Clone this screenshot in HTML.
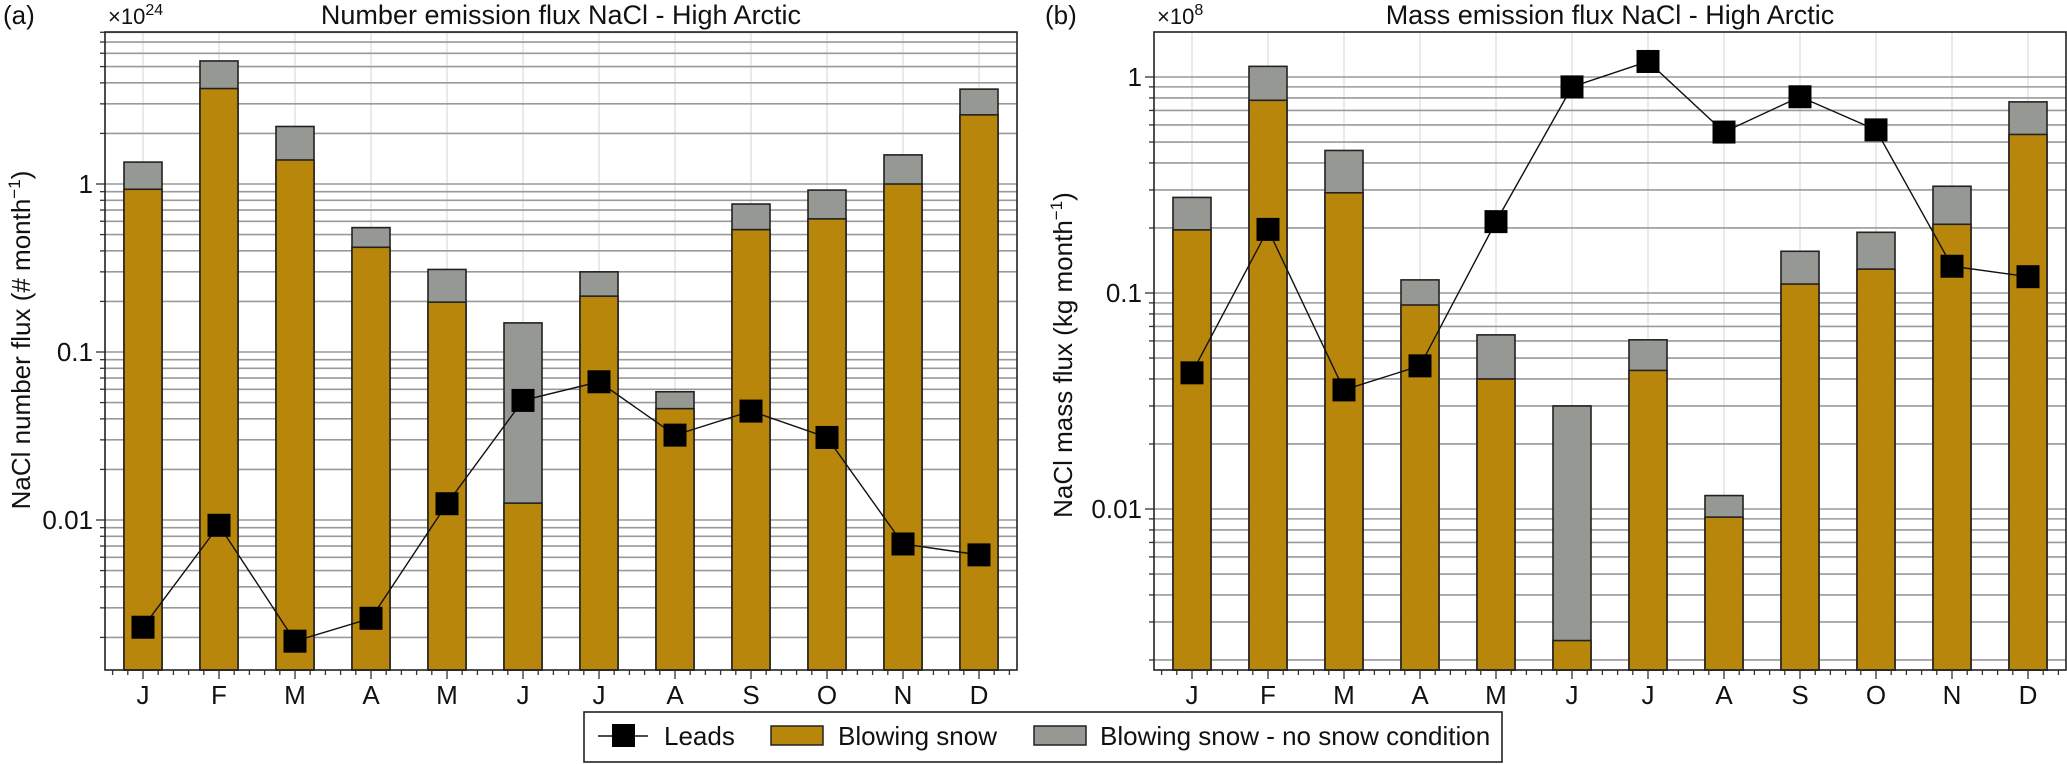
<!DOCTYPE html>
<html><head><meta charset="utf-8">
<style>
html,body{margin:0;padding:0;background:#fff;}
svg{display:block;font-family:"Liberation Sans",Arial,sans-serif;}
</style></head>
<body>
<svg id="chart" width="2067" height="764" viewBox="0 0 2067 764"></svg>
<script>
const months = ["J","F","M","A","M","J","J","A","S","O","N","D"];
// Panel (a): number flux (x1e24 # month^-1)
const numBlowing = [0.93,3.7,1.39,0.42,0.198,0.0126,0.215,0.046,0.535,0.62,1.0,2.58];
const numTotal   = [1.35,5.4,2.2,0.55,0.31,0.149,0.30,0.058,0.76,0.92,1.49,3.67];
const numLeads   = [0.0023,0.0093,0.0019,0.0026,0.0125,0.0515,0.0665,0.032,0.0445,0.031,0.0072,0.0062];
const numTicks = [1,0.1,0.01];
const numTickLabels = ["1","0.1","0.01"];
// Panel (b): mass flux (x1e8 kg month^-1)
const massBlowing = [0.196,0.78,0.291,0.088,0.040,0.00246,0.0438,0.00917,0.110,0.129,0.208,0.542];
const massTotal   = [0.277,1.12,0.457,0.115,0.064,0.030,0.0607,0.01154,0.156,0.191,0.312,0.767];
const massLeads   = [0.0427,0.197,0.0356,0.046,0.214,0.90,1.18,0.556,0.81,0.569,0.133,0.119];
const massTicks = [1,0.1,0.01];
const massTickLabels = ["1","0.1","0.01"];

const NS="http://www.w3.org/2000/svg";
const svg=document.getElementById('chart');
function mk(tag,attrs,parent){const e=document.createElementNS(NS,tag);for(const k in attrs)e.setAttribute(k,attrs[k]);(parent||svg).appendChild(e);return e;}

function panel(cfg){
  const g=mk('g',{});
  
  
  const L=cfg.left,T=32,B=670,W=912,R=L+W;
  const y=v=>cfg.y1-(Math.log10(v))*cfg.dec;
  const bw=W/12;
  const x=i=>L+bw*(i+0.5);
  const lo=Math.log10(cfg.ymin),hi=Math.log10(cfg.ymax);
  for(let i=0;i<12;i++){const l=mk('line',{x1:x(i),x2:x(i),y1:T,y2:B,stroke:'#e3e3e3','stroke-width':1.5},g);
    }
  for(let e=Math.floor(lo);e<=Math.ceil(hi);e++){
    for(let m=1;m<10;m++){const v=m*Math.pow(10,e);const lv=Math.log10(v);if(lv<lo||lv>hi)continue;
      const yy=y(v);
      const gl=mk('line',{x1:L,x2:R,y1:yy,y2:yy,stroke:'#9a9a9a','stroke-width':1.6},g);
      
      mk('line',{x1:L-(m===1?9:5),x2:L,y1:yy,y2:yy,stroke:'#333','stroke-width':1.3},g);
    }
  }
  cfg.ticks.forEach((t,i)=>{const tx=mk('text',{x:L-12,y:y(t)+9,'text-anchor':'end','font-size':26,fill:'#111'},g);
    tx.textContent=cfg.tickLabels[i];});
  for(let i=0;i<12;i++){
    const bx=x(i)-bw/4;
    const gt=mk('rect',{x:bx,y:y(cfg.total[i]),width:bw/2,height:B-y(cfg.total[i]),fill:'#969894',stroke:'#222','stroke-width':1.6},g);
    
    const bt=mk('rect',{x:bx,y:y(cfg.blow[i]),width:bw/2,height:B-y(cfg.blow[i]),fill:'#B8860B',stroke:'#222','stroke-width':1.6},g);
    
  }
  const pts=cfg.leads.map((v,i)=>x(i)+','+y(v)).join(' ');
  const pl=mk('polyline',{points:pts,fill:'none',stroke:'#111','stroke-width':1.4},g);
  
  cfg.leads.forEach((v,i)=>{const s=mk('rect',{x:x(i)-11.5,y:y(v)-11.5,width:23,height:23,fill:'#000'},g);
    });
  const fr=mk('rect',{x:L,y:T,width:W,height:B-T,fill:'none',stroke:'#222','stroke-width':1.6},g);
  
  for(let i=0;i<12;i++){
    for(let j=-2;j<=2;j++){const xx=x(i)+j*bw/5;mk('line',{x1:xx,x2:xx,y1:B,y2:B+(j===0?9:5),stroke:'#333','stroke-width':1.3},g);}
    const t=mk('text',{x:x(i),y:B+34,'text-anchor':'middle','font-size':26,fill:'#111'},g);
    t.textContent=months[i];
  }
  const ti=mk('text',{x:L+W/2,y:24,'text-anchor':'middle','font-size':27,fill:'#111'},g);
  ti.textContent=cfg.title;
  const pn=mk('text',{x:cfg.letterX,y:24,'font-size':26,fill:'#111'},g);
  pn.textContent=cfg.letter;
  const ex=mk('text',{x:L+3,y:24,'font-size':22,fill:'#111'},g);
  ex.textContent='×10';
  const sp=mk('tspan',{dy:-9,'font-size':16},ex);sp.textContent=cfg.exp;
  const yl=mk('text',{x:0,y:0,'text-anchor':'middle','font-size':26,fill:'#111',transform:`translate(${cfg.ylabX},${cfg.ylabY}) rotate(-90)`},g);
  
  yl.appendChild(document.createTextNode(cfg.ylab));
  const s2=mk('tspan',{dy:-10,'font-size':17},yl);s2.textContent='−1';
  const s3=mk('tspan',{dy:10},yl);s3.textContent=')';
}
panel({name:'number-flux-panel',left:105,y1:184,dec:168,ymin:Math.pow(10,-2.893),ymax:Math.pow(10,0.905),
  blow:numBlowing,total:numTotal,leads:numLeads,ticks:numTicks,tickLabels:numTickLabels,
  title:'Number emission flux NaCl - High Arctic',letter:'(a)',letterX:3,exp:'24',
  ylab:'NaCl number flux (# month',ylabX:30,ylabY:340});
panel({name:'mass-flux-panel',left:1154,y1:77,dec:216,ymin:Math.pow(10,-2.745),ymax:Math.pow(10,0.208),
  blow:massBlowing,total:massTotal,leads:massLeads,ticks:massTicks,tickLabels:massTickLabels,
  title:'Mass emission flux NaCl - High Arctic',letter:'(b)',letterX:1045,exp:'8',
  ylab:'NaCl mass flux (kg month',ylabX:1072,ylabY:355});

const lg=mk('g',{});


mk('rect',{x:584,y:712,width:918,height:50,fill:'#fff',stroke:'#222','stroke-width':1.6},lg);
mk('line',{x1:598,x2:648,y1:736,y2:736,stroke:'#111','stroke-width':1.4},lg);
mk('rect',{x:612,y:724,width:23,height:23,fill:'#000'},lg);
const t1=mk('text',{x:664,y:745,'font-size':26,fill:'#111'},lg);t1.textContent='Leads';

mk('rect',{x:771,y:726,width:52,height:19,fill:'#B8860B',stroke:'#222','stroke-width':1.5},lg);
const t2=mk('text',{x:838,y:745,'font-size':26,fill:'#111'},lg);t2.textContent='Blowing snow';

mk('rect',{x:1034,y:726,width:52,height:19,fill:'#969894',stroke:'#222','stroke-width':1.5},lg);
const t3=mk('text',{x:1100,y:745,'font-size':26,fill:'#111'},lg);t3.textContent='Blowing snow - no snow condition';

</script>
</body></html>
